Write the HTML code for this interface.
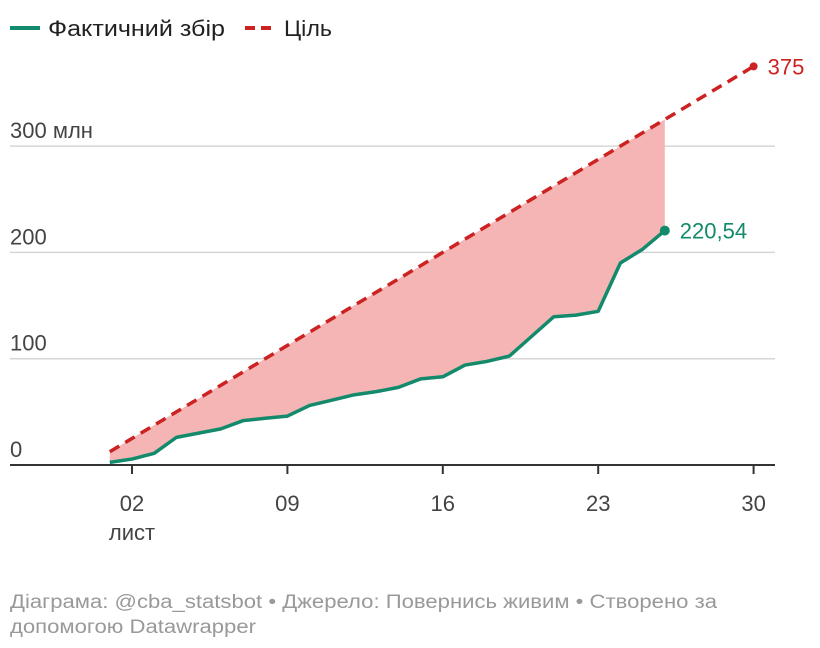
<!DOCTYPE html>
<html><head><meta charset="utf-8">
<style>
body{margin:0;background:#fff;width:820px;height:648px;overflow:hidden;font-family:"Liberation Sans",sans-serif}
svg{position:absolute;left:0;top:0}
</style></head>
<body>
<svg width="820" height="648" id="chart" font-family="Liberation Sans, sans-serif">
<g>
 <line x1="10" y1="28" x2="40" y2="28" stroke="#138a6c" stroke-width="4"/>
 <text x="48" y="36" font-size="22" fill="#222" textLength="177" lengthAdjust="spacingAndGlyphs">Фактичний збір</text>
 <line x1="245" y1="28" x2="277" y2="28" stroke="#cc2222" stroke-width="4" stroke-dasharray="10,6"/>
 <text x="284" y="36" font-size="22" fill="#222" textLength="48" lengthAdjust="spacingAndGlyphs">Ціль</text>
</g>
<g id="grid"></g>
<g id="marks"></g>
<text x="10" y="608" font-size="19" fill="#999" textLength="707" lengthAdjust="spacingAndGlyphs">Діаграма: @cba_statsbot • Джерело: Повернись живим • Створено за</text>
<text x="10" y="633" font-size="19" fill="#999" textLength="246" lengthAdjust="spacingAndGlyphs">допомогою Datawrapper</text>
</svg>
<script>
const days=[1,2,3,4,5,6,7,8,9,10,11,12,13,14,15,16,17,18,19,20,21,22,23,24,25,26];
const actual=[2.5,5.6,11,26,30,34,41.7,44,46,56,61,66,69,73,81,83,94,97.5,102.5,121,139.5,141,144.6,190,203,220.54];
const targetDays=[1,30];
const targetVals=[12.5,375];
const yTicks=[0,100,200,300];
const yTickLabels=["0","100","200","300 млн"];
const xTicks=[2,9,16,23,30];
const xTickLabels=["02","09","16","23","30"];
const NS="http://www.w3.org/2000/svg";
const X=d=>132+(d-2)*22.2;
const Y=v=>465-v*1.063;
const tgt=d=>targetVals[0]+(d-targetDays[0])*(targetVals[1]-targetVals[0])/(targetDays[1]-targetDays[0]);
function mk(tag,attrs,parent,text){const e=document.createElementNS(NS,tag);for(const k in attrs)e.setAttribute(k,attrs[k]);if(text!==undefined)e.textContent=text;parent.appendChild(e);return e;}
const gridG=document.getElementById('grid'),marksG=document.getElementById('marks');
yTicks.forEach((v,i)=>{
 if(v>0){const l=mk('line',{x1:10,x2:775,y1:Y(v),y2:Y(v),stroke:'#d6d6d6','stroke-width':1.5},gridG);
 
 }
 const t=mk('text',{x:10,y:Y(v)-8,'font-size':22,fill:'#444'},gridG,yTickLabels[i]);
 
 
});
const linePts=days.map((d,i)=>X(d)+','+Y(actual[i]));
const upperPts=days.slice().reverse().map(d=>X(d)+','+Y(tgt(d)));
const area=mk('polygon',{points:linePts.concat(upperPts).join(' '),fill:'#f5b5b5'},marksG);


const ax=mk('line',{x1:10,x2:775,y1:465,y2:465,stroke:'#333','stroke-width':2},marksG);


xTicks.forEach((d,i)=>{
 const tk=mk('line',{x1:X(d),x2:X(d),y1:465,y2:474,stroke:'#333','stroke-width':2},marksG);
 
 
 const t=mk('text',{x:X(d),y:511,'font-size':22,fill:'#444','text-anchor':'middle'},marksG,xTickLabels[i]);
 
 
});
const mlab=mk('text',{x:X(2),y:540,'font-size':22,fill:'#444','text-anchor':'middle'},marksG,'лист');


const tl=mk('line',{x1:X(targetDays[0]),y1:Y(targetVals[0]),x2:X(targetDays[1]),y2:Y(targetVals[1]),stroke:'#cc2222','stroke-width':3.5,'stroke-dasharray':'11,7'},marksG);


const td=mk('circle',{cx:X(targetDays[1]),cy:Y(targetVals[1]),r:4,fill:'#cc2222'},marksG);


const tlab=mk('text',{x:X(targetDays[1])+14,y:Y(targetVals[1])+8,'font-size':22,fill:'#cc2222'},marksG,String(targetVals[1]));


const al=mk('polyline',{points:linePts.join(' '),fill:'none',stroke:'#138a6c','stroke-width':3.5,'stroke-linejoin':'round'},marksG);


const last=days.length-1;
const ad=mk('circle',{cx:X(days[last]),cy:Y(actual[last]),r:5,fill:'#138a6c'},marksG);


const alab=mk('text',{x:X(days[last])+15,y:Y(actual[last])+8,'font-size':22,fill:'#138a6c'},marksG,actual[last].toFixed(2).replace('.',','));


</script>
</body></html>
